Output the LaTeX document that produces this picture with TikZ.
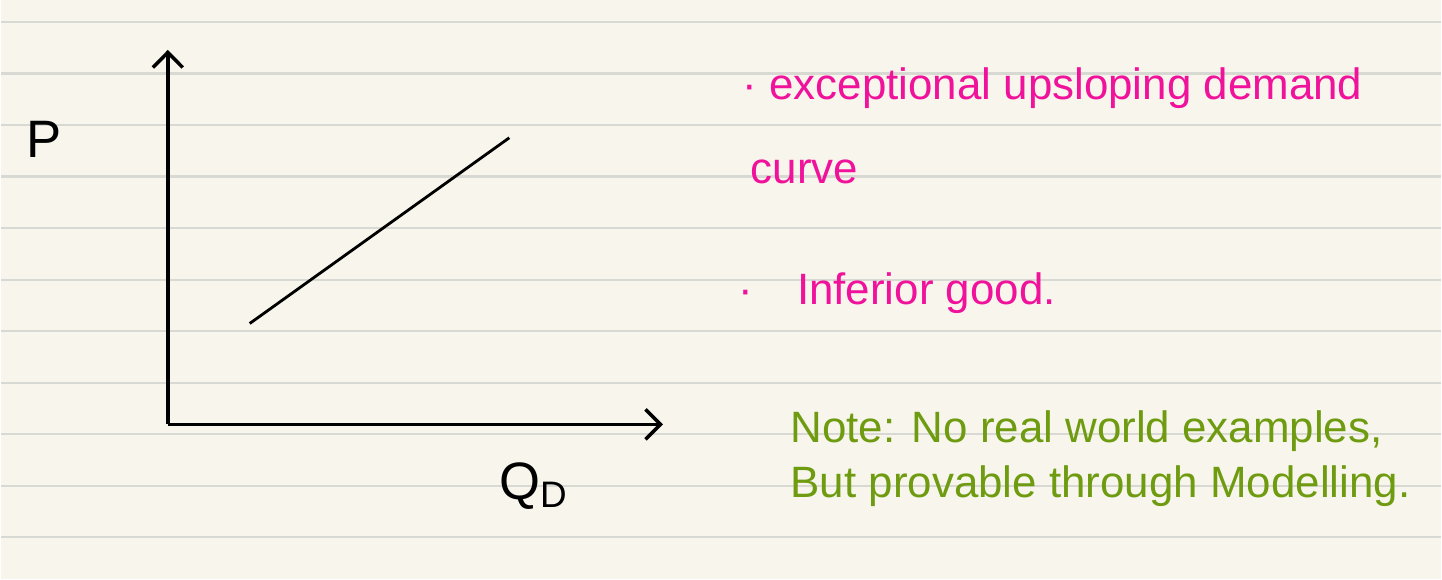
\documentclass[tikz,border=0pt]{standalone}
\usepackage{fontspec}
\setmainfont{Liberation Sans}
\usetikzlibrary{arrows.meta}
\definecolor{paper}{HTML}{F8F6EC}
\definecolor{ruling}{HTML}{D9D9D4}
\definecolor{pinkink}{HTML}{F0129B}
\definecolor{greenink}{HTML}{6E9B10}
\tikzset{
  axis/.style={line width=1pt, -{Straight Barb[length=4.3pt,width=8.5pt]}},
  pinknote/.style={pinkink, anchor=base west, inner sep=0pt, font=\fontsize{12.5}{15}\selectfont},
  greennote/.style={greenink, anchor=base west, inner sep=0pt, font=\fontsize{12.5}{15}\selectfont},
  axislabel/.style={inner sep=0pt, font=\fontsize{15}{18}\selectfont},
}
\begin{document}
\begin{tikzpicture}[x=0.01cm,y=-0.01cm]
        % paper
        \fill[paper] (0,0) rectangle (1442,580);
        \foreach \k in {0,...,10}
            \draw[ruling, line width=0.6pt] (0,{22+51.6*\k}) -- (1442,{22+51.6*\k});

        \coordinate (O) at (167,425);
        \coordinate (ytip) at (167,50);
        \coordinate (xtip) at (663,425);
        \draw[axis] (O) -- (ytip);
        \draw[axis] (O) -- (xtip);
        \node[axislabel] (plabel) at (43,140) {P};
        \node[axislabel, anchor=base west] (qlabel) at (498,500) {Q\textsubscript{D}};

        % demand
        \coordinate (d1) at (249,324);
        \coordinate (d2) at (509,138);
        \draw[line width=0.8pt] (d1) -- (d2);

        \node[pinknote] (note1) at (742,100) {· exceptional upsloping demand};
        \node[pinknote] (note2) at (750,184) {curve};
        \node[pinknote] (note3) at (738,305) {·\quad Inferior good.};

        \node[greennote] (note4) at (790,443) {Note: No real world examples,};
        \node[greennote] (note5) at (790,498) {But provable through Modelling.};
\end{tikzpicture}
\end{document}
